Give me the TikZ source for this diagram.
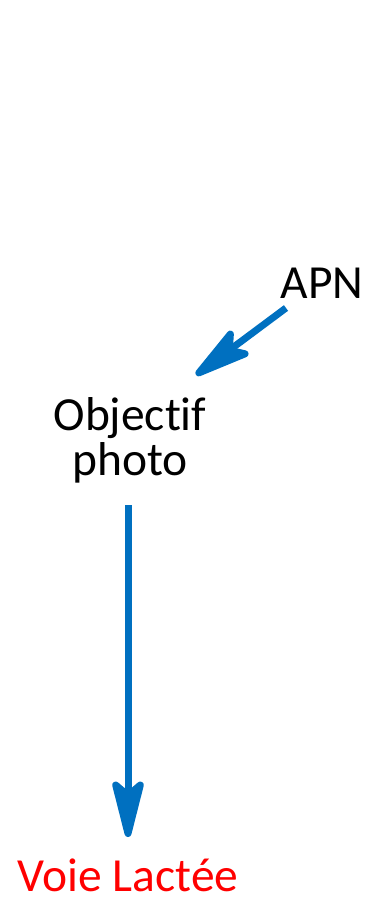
\documentclass[tikz,border=0pt]{standalone}
\usepackage{fontspec}
\setmainfont[Ligatures={NoCommon,NoRequired,NoContextual}]{Carlito}
\usetikzlibrary{arrows.meta}
\definecolor{arrowblue}{RGB}{0,112,192}
\begin{document}
\begin{tikzpicture}[x=1pt,y=-1pt,
  lbl/.style={inner sep=0pt,font=\fontsize{47.5}{45}\selectfont},
  bluearrow/.style={draw=arrowblue,fill=arrowblue,line width=7pt,
    -{Stealth[length=72pt,width=36pt,inset=15pt,round]}}]
\useasboundingbox (0,0) rectangle (377,899);
\node[lbl,anchor=base] (apn) at (322,298) {APN};
\node[lbl,align=center] (obj) at (130,440) {Objectif\\photo};
\node[lbl,anchor=base,text=red] (voie) at (128,891) {Voie Lactée};
\coordinate (a1s) at (286,308);
\coordinate (a1e) at (196,375);
\coordinate (a2s) at (128,505);
\coordinate (a2e) at (128,837);
\draw[bluearrow] (a1s) -- (a1e);
\draw[bluearrow] (a2s) -- (a2e);
\end{tikzpicture}
\end{document}
